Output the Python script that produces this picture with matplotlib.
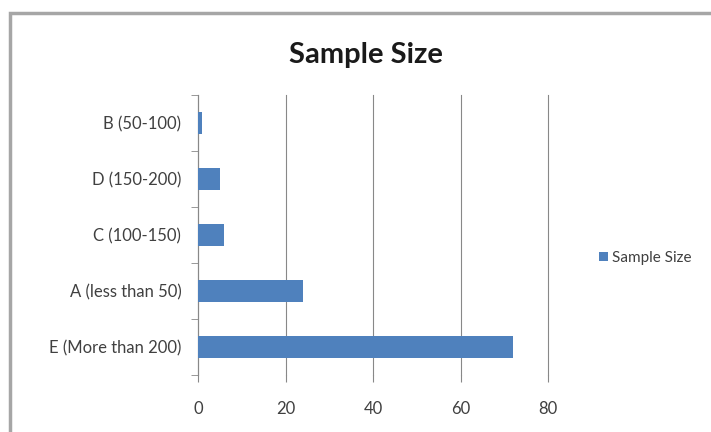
import matplotlib.pyplot as plt
from matplotlib.patches import Rectangle

# Dados
categorias = ['E (More than 200)', 'A (less than 50)', 'C (100-150)', 'D (150-200)', 'B (50-100)']
valores = [72, 24, 6, 5, 1]
ticks_x = [0, 20, 40, 60, 80]

plt.rcParams['font.family'] = ['Lato', 'DejaVu Sans']

fig = plt.figure(figsize=(7.11, 4.32), dpi=100)
ax = fig.add_axes([198 / 711, 1 - 375 / 432, 350 / 711, 280 / 432])

# moldura cinza do gráfico (Excel)
fig.patches.append(Rectangle((10 / 711, -0.1), 1.2, 1 - 13 / 432 + 0.1,
                             transform=fig.transFigure, fill=False,
                             edgecolor='#a6a6a6', linewidth=2.5))

pos = list(range(len(categorias)))
ax.barh(pos, valores, height=0.4, color='#4F81BD', label='Sample Size', zorder=3)

ax.set_xlim(0, 80)
ax.set_ylim(-0.5, len(categorias) - 0.5)
ax.set_xticks(ticks_x)
ax.set_yticks(pos)
ax.set_yticklabels(categorias)
ax.set_yticks([p - 0.5 for p in pos] + [len(categorias) - 0.5], minor=True)
ax.tick_params(axis='y', which='major', length=0, pad=12, labelsize=12, labelcolor='#404040')
ax.tick_params(axis='y', which='minor', length=5, color='#888888')
ax.tick_params(axis='x', length=5, color='#888888', pad=14, labelsize=12, labelcolor='#404040')
ax.grid(axis='x', color='#888888', linewidth=0.8, zorder=0)
for linha in ax.get_xgridlines():
    linha.set_clip_on(False)

for s in ['top', 'right', 'bottom']:
    ax.spines[s].set_visible(False)
ax.spines['left'].set_color('#888888')

fig.text(366 / 711, 1 - 55 / 432, 'Sample Size', ha='center', va='center',
         fontsize=21, fontweight='bold', color='#1a1a1a')

fig.legend(loc='center left', bbox_to_anchor=(585 / 711, 1 - 258 / 432), frameon=False,
           handlelength=0.6, handleheight=0.6, handletextpad=0.3, fontsize=11,
           labelcolor='#404040')

fig.savefig('out.png', dpi=100)
